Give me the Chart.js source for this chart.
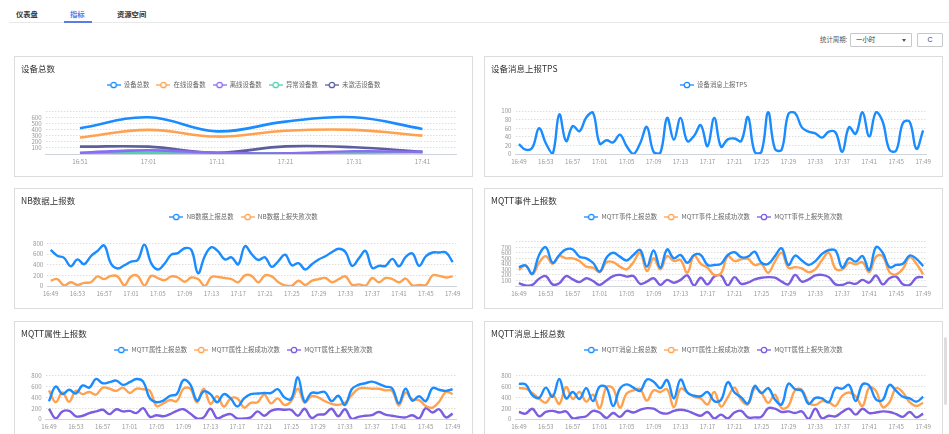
<!DOCTYPE html>
<html lang="zh-CN">
<head>
<meta charset="utf-8">
<title>指标</title>
<script src="https://cdn.jsdelivr.net/npm/chart.js@4/dist/chart.umd.min.js"></script>
<style>
  html, body { margin: 0; padding: 0; background: #fff; }
  body { width: 949px; height: 434px; overflow: hidden; position: relative; font-family: "Noto Sans CJK SC", "Noto Sans", sans-serif; }
  .tab { position: absolute; top: 9px; font-size: 7.3px; line-height: 10px; color: #333; font-weight: 600; white-space: nowrap; }
  .tab.active { color: #5b7ce6; }
  .tab-line { position: absolute; left: 9px; right: 0; top: 22px; height: 1px; background: #e8e8e8; }
  .tab-ink { position: absolute; left: 64px; width: 28px; top: 21px; height: 2px; background: #5b7ce6; }
  .period-label { position: absolute; left: 820px; top: 35px; font-size: 6.4px; line-height: 9px; color: #555; white-space: nowrap; }
  .select { position: absolute; left: 850px; top: 33px; width: 62px; height: 14px; box-sizing: border-box; border: 1px solid #c8c8c8; border-radius: 1px; }
  .select span { position: absolute; left: 5px; top: 0; font-size: 6.4px; line-height: 12px; color: #333; }
  .select i { position: absolute; right: 5px; top: 5px; width: 0; height: 0; border-left: 2px solid transparent; border-right: 2px solid transparent; border-top: 3px solid #555; }
  .refresh { position: absolute; left: 917px; top: 33px; width: 26px; height: 14px; box-sizing: border-box; border: 1px solid #c8c8c8; border-radius: 1px; text-align: center; font-family: "Liberation Sans", sans-serif; font-size: 7px; line-height: 12px; color: #444; }
  .card { position: absolute; width: 459px; height: 121px; box-sizing: border-box; border: 1px solid #dcdcdc; background: #fff; }
  .card canvas { position: absolute; left: 0; top: 0; }
  .scroll-thumb { position: absolute; left: 944px; top: 337px; width: 3px; height: 68px; border-radius: 2px; background: #dedede; }
</style>
</head>
<body>
  <div class="tab" style="left:16px">仪表盘</div>
  <div class="tab active" style="left:70px">指标</div>
  <div class="tab" style="left:117px">资源空间</div>
  <div class="tab-line"></div>
  <div class="tab-ink"></div>

  <div class="period-label">统计周期:</div>
  <div class="select"><span>一小时</span><i></i></div>
  <div class="refresh">C</div>

  <div class="card" style="left:14px;top:56px"><canvas id="deviceChart" width="457" height="119"></canvas></div>
  <div class="card" style="left:484px;top:56px"><canvas id="tpsChart" width="457" height="119"></canvas></div>
  <div class="card" style="left:14px;top:188px"><canvas id="nbChart" width="457" height="119"></canvas></div>
  <div class="card" style="left:484px;top:188px"><canvas id="eventChart" width="457" height="119"></canvas></div>
  <div class="card" style="left:14px;top:321px"><canvas id="propChart" width="457" height="119"></canvas></div>
  <div class="card" style="left:484px;top:321px"><canvas id="msgChart" width="457" height="119"></canvas></div>
  <div class="scroll-thumb"></div>

<script>
// ---- categories ----
const deviceLabels = ['16:51', '17:01', '17:11', '17:21', '17:31', '17:41'];
const minuteLabels = [
  '16:49', '16:50', '16:51', '16:52', '16:53', '16:54', '16:55', '16:56', '16:57', '16:58', '16:59',
  '17:00', '17:01', '17:02', '17:03', '17:04', '17:05', '17:06', '17:07', '17:08', '17:09',
  '17:10', '17:11', '17:12', '17:13', '17:14', '17:15', '17:16', '17:17', '17:18', '17:19',
  '17:20', '17:21', '17:22', '17:23', '17:24', '17:25', '17:26', '17:27', '17:28', '17:29',
  '17:30', '17:31', '17:32', '17:33', '17:34', '17:35', '17:36', '17:37', '17:38', '17:39',
  '17:40', '17:41', '17:42', '17:43', '17:44', '17:45', '17:46', '17:47', '17:48', '17:49'
];

// ---- 设备总数 ----
const deviceTotal    = [420, 600, 370, 530, 600, 410];
const deviceOnline   = [270, 395, 285, 380, 395, 300];
const deviceOffline  = [20, 60, 20, 10, 45, 35];
const deviceAbnormal = [10, 15, 10, 12, 20, 30];
const deviceInactive = [120, 120, 20, 125, 110, 35];

// ---- 设备消息上报TPS ----
const tpsValues = [23, 10, 15, 60, 25, 0, 92, 30, 65, 53, 85, 96, 24, 32, 27, 45, 18, 0, 25, 63,
  5, 3, 84, 33, 84, 30, 42, 67, 18, 84, 17, 34, 36, 30, 86, 5, 5, 97, 12, 10,
  93, 95, 62, 52, 48, 38, 52, 50, 5, 62, 47, 97, 41, 97, 75, 10, 8, 72, 75, 12, 55];

// ---- NB数据上报数 ----
const nbTotal = [680, 570, 530, 370, 500, 410, 560, 660, 760, 420, 330, 390, 460, 490, 780, 430, 310, 420, 590, 620,
  710, 680, 240, 560, 730, 650, 500, 540, 410, 750, 600, 490, 540, 360, 470, 590, 390, 430, 310, 410,
  500, 560, 640, 700, 640, 380, 520, 660, 340, 380, 380, 510, 370, 550, 610, 380, 560, 630, 630, 630, 450];
const nbFail = [100, 130, 10, 70, 20, 60, 70, 180, 130, 190, 180, 10, 180, 190, 10, 190, 150, 110, 180, 160,
  80, 160, 130, 0, 170, 170, 150, 130, 70, 200, 190, 70, 200, 180, 70, 10, 5, 100, 20, 100,
  130, 150, 70, 130, 180, 20, 30, 5, 150, 70, 150, 130, 70, 140, 10, 20, 20, 200, 190, 160, 180];

// ---- MQTT事件上报数 ----
const eventTotal = [340, 370, 220, 560, 700, 420, 560, 660, 660, 530, 500, 420, 260, 510, 600, 530, 460, 560, 650, 350,
  640, 330, 660, 500, 560, 420, 560, 560, 380, 380, 400, 560, 610, 520, 530, 620, 420, 400, 540, 680,
  380, 550, 460, 380, 450, 580, 650, 640, 330, 500, 440, 540, 290, 700, 600, 340, 380, 400, 550, 490, 360];
const eventOk = [290, 370, 210, 420, 540, 400, 540, 500, 500, 450, 350, 330, 250, 430, 430, 350, 300, 430, 600, 270,
  500, 300, 540, 450, 470, 240, 550, 400, 330, 200, 230, 540, 450, 480, 490, 380, 400, 240, 440, 600,
  330, 340, 320, 250, 300, 470, 600, 310, 300, 420, 390, 430, 250, 530, 540, 250, 210, 310, 520, 400, 210];
const eventFail = [50, 10, 20, 130, 180, 30, 50, 180, 120, 70, 140, 90, 20, 100, 180, 200, 170, 180, 40, 80,
  140, 20, 110, 60, 110, 190, 10, 150, 30, 170, 190, 10, 160, 40, 60, 120, 150, 160, 150, 80,
  30, 200, 80, 120, 190, 200, 160, 30, 20, 60, 40, 110, 60, 190, 30, 140, 170, 30, 20, 150, 160];

// ---- MQTT属性上报数 ----
const propTotal = [330, 600, 460, 540, 470, 620, 580, 740, 660, 680, 710, 630, 680, 740, 690, 380, 310, 340, 430, 460,
  720, 640, 340, 510, 460, 310, 460, 380, 230, 380, 460, 470, 480, 480, 550, 400, 370, 770, 320, 480,
  480, 500, 330, 430, 260, 550, 630, 660, 690, 650, 600, 570, 290, 560, 340, 420, 330, 570, 540, 520, 550];
const propOk = [530, 310, 490, 320, 520, 460, 500, 450, 580, 560, 520, 580, 480, 560, 550, 520, 240, 290, 350, 330,
  560, 560, 310, 560, 280, 420, 230, 380, 380, 210, 300, 310, 450, 290, 380, 260, 330, 560, 300, 420,
  400, 330, 280, 260, 300, 440, 560, 570, 560, 560, 530, 520, 250, 490, 360, 350, 240, 210, 320, 500, 460];
const propFail = [190, 10, 140, 150, 50, 60, 110, 140, 170, 90, 180, 140, 150, 110, 200, 40, 70, 50, 90, 150,
  180, 100, 10, 30, 190, 10, 60, 90, 10, 10, 30, 140, 60, 150, 180, 170, 170, 60, 190, 20,
  80, 90, 190, 50, 180, 0, 40, 60, 70, 130, 80, 60, 40, 30, 70, 10, 200, 120, 180, 30, 100];

// ---- MQTT消息上报总数 ----
const msgTotal = [650, 640, 440, 390, 580, 410, 740, 380, 500, 370, 570, 330, 600, 580, 240, 560, 640, 580, 520, 730,
  690, 570, 720, 380, 730, 490, 430, 420, 500, 330, 350, 680, 490, 400, 290, 610, 480, 570, 360, 270,
  650, 550, 520, 280, 390, 380, 310, 570, 560, 630, 330, 640, 620, 360, 350, 630, 520, 410, 380, 320, 410];
const msgOk = [570, 560, 480, 380, 300, 450, 280, 590, 370, 500, 320, 450, 200, 590, 560, 210, 470, 530, 550, 340,
  530, 500, 550, 220, 560, 490, 410, 380, 270, 500, 230, 400, 580, 350, 270, 560, 480, 300, 450, 200,
  240, 530, 540, 300, 260, 330, 310, 240, 430, 490, 420, 240, 580, 520, 220, 310, 570, 490, 310, 240, 300];
const msgFail = [130, 100, 190, 50, 130, 150, 120, 140, 10, 30, 50, 150, 120, 20, 110, 40, 150, 120, 170, 200,
  190, 120, 100, 150, 170, 150, 100, 60, 130, 10, 80, 10, 120, 150, 30, 30, 40, 200, 190, 130,
  140, 110, 140, 0, 190, 10, 60, 50, 130, 190, 80, 190, 110, 120, 140, 130, 90, 40, 130, 30, 100];

// ---- styling ----
const FONT = '"Noto Sans CJK SC", "Noto Sans", sans-serif';
Chart.defaults.font.family = FONT;

const BLUE = '#1a8cff';
const ORANGE = '#ffa24f';
const PURPLE = '#7b5de2';
const VIOLET = '#8c6cf0';
const TEAL = '#55cfb3';
const SLATE = '#5b5f9d';

// hollow-circle-on-a-line legend marker
function legendIcon(color) {
  const c = document.createElement('canvas');
  c.width = 14; c.height = 8;
  const g = c.getContext('2d');
  g.strokeStyle = color;
  g.lineWidth = 1.3;
  g.beginPath(); g.moveTo(0, 4); g.lineTo(14, 4); g.stroke();
  g.beginPath(); g.arc(7, 4, 2.7, 0, Math.PI * 2);
  g.fillStyle = '#fff'; g.fill(); g.stroke();
  return c;
}

const baseLegendLabels = Chart.defaults.plugins.legend.labels.generateLabels;
function legendItems(chart) {
  return baseLegendLabels(chart).map(item => {
    item.pointStyle = legendIcon(chart.data.datasets[item.datasetIndex].borderColor);
    item.lineWidth = 0;
    return item;
  });
}

function line(label, data, color, width) {
  return {
    label, data,
    borderColor: color, backgroundColor: color,
    borderWidth: width || 2.4,
    pointRadius: 0, pointHoverRadius: 0,
    tension: 0.4, fill: false
  };
}

function buildChart(id, cfg) {
  return new Chart(document.getElementById(id), {
    type: 'line',
    data: { labels: cfg.labels, datasets: cfg.datasets },
    options: {
      responsive: false,
      animation: false,
      devicePixelRatio: 1,
      events: [],
      layout: { padding: { left: 6, right: 6, top: 0, bottom: 0 } },
      plugins: {
        title: {
          display: true, text: cfg.title, align: 'start', color: '#333',
          font: { size: 8.5, weight: 'normal', family: FONT },
          padding: { top: 6.9, bottom: 0.7 }
        },
        legend: {
          display: true, position: 'top',
          labels: {
            usePointStyle: true, pointStyleWidth: 14, padding: 7,
            color: '#666', font: { size: 6.4, family: FONT },
            generateLabels: legendItems
          }
        },
        tooltip: { enabled: false }
      },
      scales: {
        x: {
          offset: true,
          grid: { display: false, drawTicks: false },
          border: { display: true, color: '#cfd4dc', width: 1 },
          ticks: {
            autoSkip: false, maxRotation: 0, minRotation: 0, padding: 3.6,
            color: '#999', font: { size: 6.2, family: FONT },
            callback: (v, i) => (i % cfg.every === 0 ? cfg.labels[i] : '')
          },
          afterFit: s => { s.height = 22; }
        },
        y: {
          min: 0, max: cfg.max,
          ticks: {
            stepSize: cfg.step, padding: 4, autoSkip: false,
            color: '#999', font: { size: 6.2, family: FONT },
            callback: v => (cfg.hideEnds && (v === 0 || v === cfg.max) ? '' : v)
          },
          grid: { color: '#dedede', lineWidth: 1, drawTicks: false },
          border: { display: false, dash: [1.5, 1.5] },
          afterFit: s => { s.width = cfg.yWidth; }
        },
        gapTop: {
          type: 'linear', position: 'top', display: true,
          ticks: { display: false }, grid: { display: false }, border: { display: false },
          afterFit: s => { s.height = cfg.topGap; }
        },
        gapRight: {
          type: 'linear', position: 'right', display: true,
          ticks: { display: false }, grid: { display: false }, border: { display: false },
          afterFit: s => { s.width = cfg.rightGap; }
        }
      }
    }
  });
}

buildChart('deviceChart', {
  title: '设备总数', labels: deviceLabels, every: 1,
  max: 700, step: 100, hideEnds: true, yWidth: 24.7, rightGap: 9.3, topGap: 13,
  datasets: [
    line('设备总数', deviceTotal, BLUE, 2.6),
    line('在线设备数', deviceOnline, ORANGE, 2.6),
    line('离线设备数', deviceOffline, VIOLET, 2.6),
    line('异常设备数', deviceAbnormal, TEAL, 2.6),
    line('未激活设备数', deviceInactive, SLATE, 2.6)
  ]
});

buildChart('tpsChart', {
  title: '设备消息上报TPS', labels: minuteLabels, every: 4,
  max: 100, step: 20, hideEnds: false, yWidth: 24.5, rightGap: 9.5, topGap: 12.8,
  datasets: [line('设备消息上报TPS', tpsValues, BLUE)]
});

buildChart('nbChart', {
  title: 'NB数据上报数', labels: minuteLabels, every: 4,
  max: 800, step: 200, hideEnds: false, yWidth: 26.3, rightGap: 10, topGap: 13.3,
  datasets: [
    line('NB数据上报总数', nbTotal, BLUE),
    line('NB数据上报失败次数', nbFail, ORANGE)
  ]
});

buildChart('eventChart', {
  title: 'MQTT事件上报数', labels: minuteLabels, every: 4,
  max: 800, step: 100, hideEnds: true, yWidth: 24.5, rightGap: 9.5, topGap: 11.5,
  datasets: [
    line('MQTT事件上报总数', eventTotal, BLUE),
    line('MQTT事件上报成功次数', eventOk, ORANGE),
    line('MQTT事件上报失败次数', eventFail, PURPLE)
  ]
});

buildChart('propChart', {
  title: 'MQTT属性上报数', labels: minuteLabels, every: 4,
  max: 800, step: 200, hideEnds: false, yWidth: 24.6, rightGap: 10, topGap: 12.5,
  datasets: [
    line('MQTT属性上报总数', propTotal, BLUE),
    line('MQTT属性上报成功次数', propOk, ORANGE),
    line('MQTT属性上报失败次数', propFail, PURPLE)
  ]
});

buildChart('msgChart', {
  title: 'MQTT消息上报总数', labels: minuteLabels, every: 4,
  max: 800, step: 200, hideEnds: false, yWidth: 24.5, rightGap: 9.5, topGap: 12.5,
  datasets: [
    line('MQTT消息上报总数', msgTotal, BLUE),
    line('MQTT属性上报成功次数', msgOk, ORANGE),
    line('MQTT属性上报失败次数', msgFail, PURPLE)
  ]
});
</script>
</body>
</html>
